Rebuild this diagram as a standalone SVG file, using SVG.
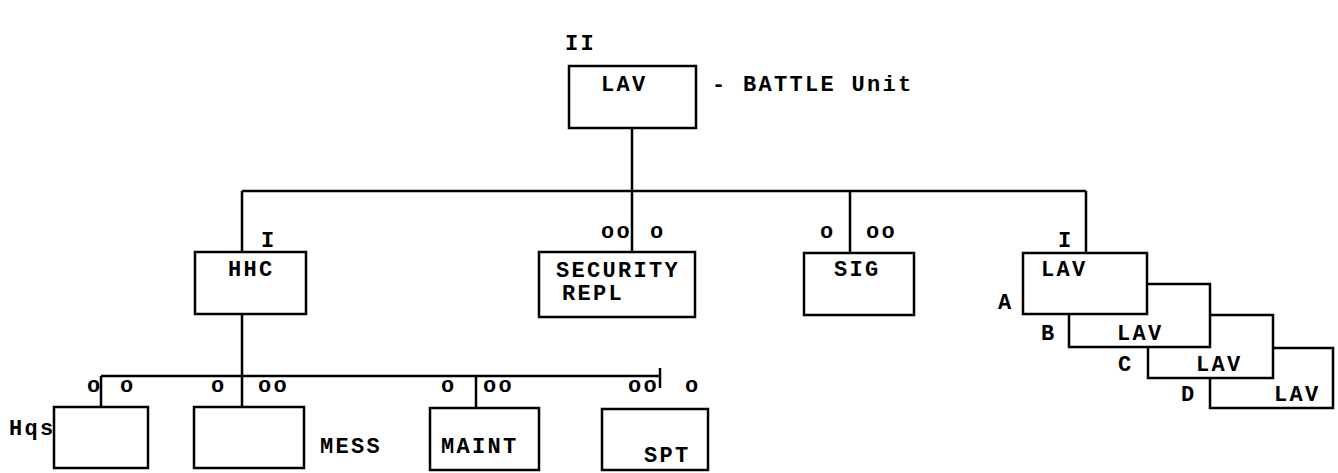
<svg xmlns="http://www.w3.org/2000/svg" width="1338" height="473" viewBox="0 0 1338 473">
<style>
.b{fill:none;stroke:#000;stroke-width:2.5;stroke-linejoin:miter}
.c{fill:none;stroke:#000;stroke-width:2.5}
text{font-family:"Liberation Mono","DejaVu Sans Mono",monospace;font-size:22px;font-weight:bold;letter-spacing:2.3px;fill:#000}
</style>
<rect width="1338" height="473" fill="#fff"/>
<g id="connectors">
<path class="c" d="M632,128V191M242,191H1086M242,191V252M632,191V252M850,191V253M1086,191V253"/>
<path class="c" d="M242,314V407M101,376H660M101,376V407M476,376V408M660,368V388"/>
</g>
<g id="lav-battalion">
<text x="565" y="50">II</text>
<rect class="b" x="569" y="66" width="127" height="62"/>
<text x="601" y="91">LAV</text>
<text x="712" y="91">- BATTLE Unit</text>
</g>
<g id="hhc">
<text x="261" y="247">I</text>
<rect class="b" x="195" y="252" width="111" height="62"/>
<text x="228" y="276">HHC</text>
</g>
<g id="security-repl">
<text x="601" y="238">oo</text>
<text x="650" y="238">o</text>
<rect class="b" x="539" y="252" width="156" height="65"/>
<text x="556" y="277">SECURITY</text>
<text x="562" y="300">REPL</text>
</g>
<g id="sig">
<text x="820" y="238">o</text>
<text x="866" y="238">oo</text>
<rect class="b" x="804" y="253" width="110" height="62"/>
<text x="834" y="276">SIG</text>
</g>
<g id="lav-a">
<text x="1058" y="247">I</text>
<rect class="b" x="1023" y="253" width="124" height="61"/>
<text x="1041" y="276">LAV</text>
<text x="998" y="309">A</text>
</g>
<g id="lav-b">
<path class="b" d="M1147,284H1210V347H1069V314"/>
<text x="1041" y="340">B</text>
<text x="1117" y="340">LAV</text>
</g>
<g id="lav-c">
<path class="b" d="M1210,315H1273V378H1148V347"/>
<text x="1118" y="371">C</text>
<text x="1196" y="371">LAV</text>
</g>
<g id="lav-d">
<path class="b" d="M1273,348H1333V408H1210V378"/>
<text x="1181" y="401">D</text>
<text x="1274" y="401">LAV</text>
</g>
<g id="hqs">
<text x="87" y="392">o</text>
<text x="120" y="392">o</text>
<rect class="b" x="54" y="407" width="94" height="61"/>
<text x="9" y="435">Hqs</text>
</g>
<g id="mess">
<text x="211" y="392">o</text>
<text x="258" y="392">oo</text>
<rect class="b" x="194" y="407" width="110" height="61"/>
<text x="320" y="453">MESS</text>
</g>
<g id="maint">
<text x="441" y="392">o</text>
<text x="483" y="392">oo</text>
<rect class="b" x="430" y="408" width="109" height="62"/>
<text x="441" y="453">MAINT</text>
</g>
<g id="spt">
<text x="628" y="392">oo</text>
<text x="685" y="392">o</text>
<rect class="b" x="602" y="409" width="106" height="61"/>
<text x="644" y="462">SPT</text>
</g>
</svg>
